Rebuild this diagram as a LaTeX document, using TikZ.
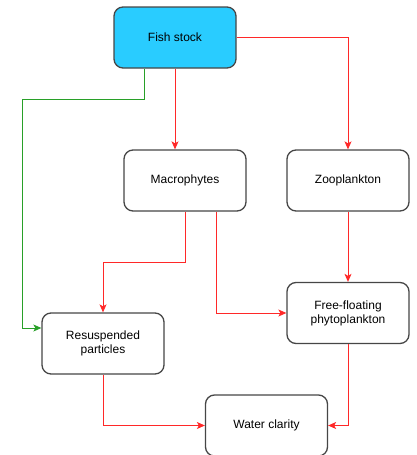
\documentclass[tikz,border=0pt]{standalone}
\usepackage{fontspec}
\setmainfont{Liberation Sans}
\usetikzlibrary{arrows.meta}
\definecolor{boxline}{RGB}{70,70,70}
\definecolor{fishfill}{RGB}{41,204,255}
\definecolor{linkred}{RGB}{255,40,40}
\definecolor{linkgreen}{RGB}{40,160,40}
\begin{document}
\begin{tikzpicture}[x=1pt,y=-1pt,
  factor/.style={draw=boxline,line width=1.3pt,rounded corners=9pt,fill=white,
    minimum width=122pt,minimum height=61pt,inner sep=0pt,align=center,
    font=\fontsize{12}{14}\selectfont},
  link/.style={draw=linkred,line width=0.9pt,-{Stealth[length=8pt,width=7pt,inset=2pt]}},
  glink/.style={draw=linkgreen,line width=0.9pt,-{Stealth[length=8pt,width=7pt,inset=2pt]}}]
\useasboundingbox (0,0) rectangle (417,455);
% boxes
\node[factor,fill=fishfill] (fish) at (175,37.5) {Fish stock};
\node[factor] (macro) at (185,180.5) {Macrophytes};
\node[factor] (zoo) at (348,180.5) {Zooplankton};
\node[factor] (phyto) at (348,313) {Free-floating\\phytoplankton};
\node[factor] (resus) at (103,343.5) {Resuspended\\particles};
\node[factor] (water) at (266.5,425.5) {Water clarity};
% bend points
\coordinate (g1) at (144,99);
\coordinate (g2) at (22,99);
\coordinate (m1) at (185,262);
\coordinate (m2) at (103,262);
\coordinate (m3) at (216,313);
% connectors
\draw[link] (fish.south) -- (fish.south |- macro.north);
\draw[link] (fish.east) -| (zoo.north);
\draw[glink] (fish.south -| g1) -- (g1) -- (g2) |- (resus.west |- 0,328);
\draw[link] (macro.south -| m1) -- (m1) -- (m2) -- (resus.north);
\draw[link] (macro.south -| m3) -- (m3) -- (phyto.west);
\draw[link] (zoo.south) -- (phyto.north);
\draw[link] (resus.south) |- (water.west);
\draw[link] (phyto.south) |- (water.east);
\end{tikzpicture}
\end{document}
